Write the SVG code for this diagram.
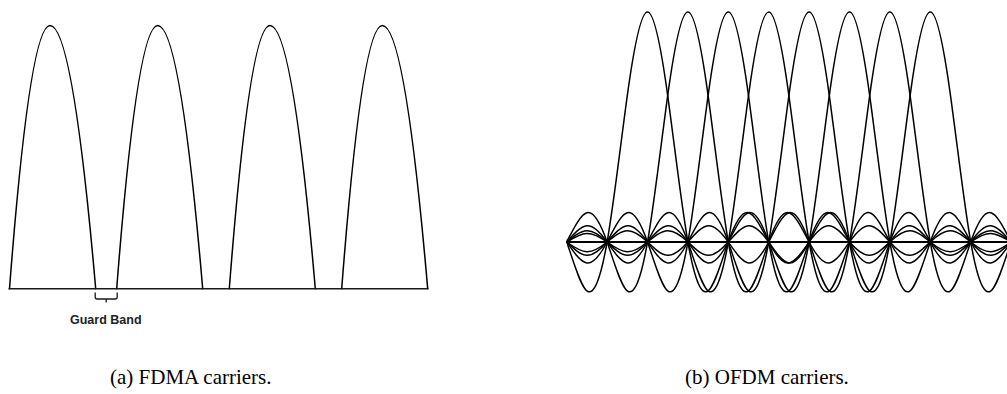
<svg xmlns="http://www.w3.org/2000/svg" xmlns:xlink="http://www.w3.org/1999/xlink" width="1007" height="394" viewBox="0 0 1007 394">
<style>
.curve{fill:none;stroke:#000;stroke-width:1.5;stroke-linecap:round;stroke-linejoin:round}
.axis{fill:none;stroke:#1a1a1a;stroke-width:1.6}
.oaxis{fill:none;stroke:#000;stroke-width:2}
.label{font-family:"Liberation Sans",Arial,sans-serif;font-weight:bold;font-size:12.5px;fill:#222}
.caption{font-family:"Liberation Serif","Times New Roman",serif;font-size:21px;fill:#000}
</style>
<defs>
<path id="sinc" class="curve" d="M0,-230 C6.733,-230 13.467,-195.23 20.2,-146.42 C26.933,-97.61 33.667,-38.33 40.4,0 C47.133,38.333 53.867,54.231 60.6,48.808 C67.333,43.384 74.067,19.167 80.8,0 C87.533,-19.167 94.267,-31.237 101,-29.285 C107.733,-27.332 114.467,-12.778 121.2,0 C127.933,12.778 134.667,21.914 141.4,20.918 C148.133,19.921 154.867,9.583 161.6,0 C168.333,-9.583 175.067,-16.872 181.8,-16.269 C188.533,-15.667 195.267,-7.667 202,0 C208.733,7.667 215.467,13.715 222.2,13.311 C228.933,12.908 235.667,6.389 242.4,0 C249.133,-6.389 255.867,-11.552 262.6,-11.263 C269.333,-10.974 276.067,-5.476 282.8,0 C289.533,5.476 296.267,9.978 303,9.761 C309.733,9.545 316.467,4.792 323.2,0 C329.933,-4.792 336.667,-8.782 343.4,-8.613 C350.133,-8.444 356.867,-4.259 363.6,0 M0,-230 C-6.733,-230 -13.467,-195.23 -20.2,-146.42 C-26.933,-97.61 -33.667,-38.33 -40.4,0 C-47.133,38.333 -53.867,54.231 -60.6,48.808 C-67.333,43.384 -74.067,19.167 -80.8,0 C-87.533,-19.167 -94.267,-31.237 -101,-29.285 C-107.733,-27.332 -114.467,-12.778 -121.2,0 C-127.933,12.778 -134.667,21.914 -141.4,20.918 C-148.133,19.921 -154.867,9.583 -161.6,0 C-168.333,-9.583 -175.067,-16.872 -181.8,-16.269 C-188.533,-15.667 -195.267,-7.667 -202,0 C-208.733,7.667 -215.467,13.715 -222.2,13.311 C-228.933,12.908 -235.667,6.389 -242.4,0 C-249.133,-6.389 -255.867,-11.552 -262.6,-11.263 C-269.333,-10.974 -276.067,-5.476 -282.8,0 C-289.533,5.476 -296.267,9.978 -303,9.761 C-309.733,9.545 -316.467,4.792 -323.2,0 C-329.933,-4.792 -336.667,-8.782 -343.4,-8.613 C-350.133,-8.444 -356.867,-4.259 -363.6,0"/>
<clipPath id="oclip"><rect x="566.7" y="0" width="450" height="394"/></clipPath>
</defs>

<g id="fdma">
  <g id="carrier-a1"><path class="curve" d="M9.5,288.7 Q29.75,25.5 50,25.5 Q72.85,25.5 95.7,288.7"/></g>
  <g id="carrier-a2"><path class="curve" d="M116.7,288.7 Q137.2,25.5 157.7,25.5 Q180.2,25.5 202.7,288.7"/></g>
  <g id="carrier-a3"><path class="curve" d="M229.3,288.7 Q249.65,25.5 270,25.5 Q292.65,25.5 315.3,288.7"/></g>
  <g id="carrier-a4"><path class="curve" d="M341.7,288.7 Q362,25.5 382.3,25.5 Q405,25.5 427.7,288.7"/></g>
  <g id="axis-a"><line class="axis" x1="8.5" y1="288.8" x2="428.5" y2="288.8"/></g>
  <g id="guard-band">
    <path class="axis" style="stroke-width:1.3" d="M95.2,292.5 V297 Q95.2,299 97.2,299 H115.2 Q117.2,299 117.2,297 V292.5 M106.2,299 V302.5"/>
    <text class="label" x="70" y="324">Guard Band</text>
  </g>
</g>

<g id="ofdm" clip-path="url(#oclip)">
  <g id="carrier-b1"><use xlink:href="#sinc" transform="translate(647.5,242)"/></g>
  <g id="carrier-b2"><use xlink:href="#sinc" transform="translate(687.9,242)"/></g>
  <g id="carrier-b3"><use xlink:href="#sinc" transform="translate(728.3,242)"/></g>
  <g id="carrier-b4"><use xlink:href="#sinc" transform="translate(768.7,242)"/></g>
  <g id="carrier-b5"><use xlink:href="#sinc" transform="translate(809.1,242)"/></g>
  <g id="carrier-b6"><use xlink:href="#sinc" transform="translate(849.5,242)"/></g>
  <g id="carrier-b7"><use xlink:href="#sinc" transform="translate(889.9,242)"/></g>
  <g id="carrier-b8"><use xlink:href="#sinc" transform="translate(930.3,242)"/></g>
  <g id="axis-b"><line class="oaxis" x1="566.7" y1="242" x2="1010" y2="242"/></g>
</g>

<text class="caption" x="110" y="384">(a) FDMA carriers.</text>
<text class="caption" x="685" y="384">(b) OFDM carriers.</text>
</svg>
